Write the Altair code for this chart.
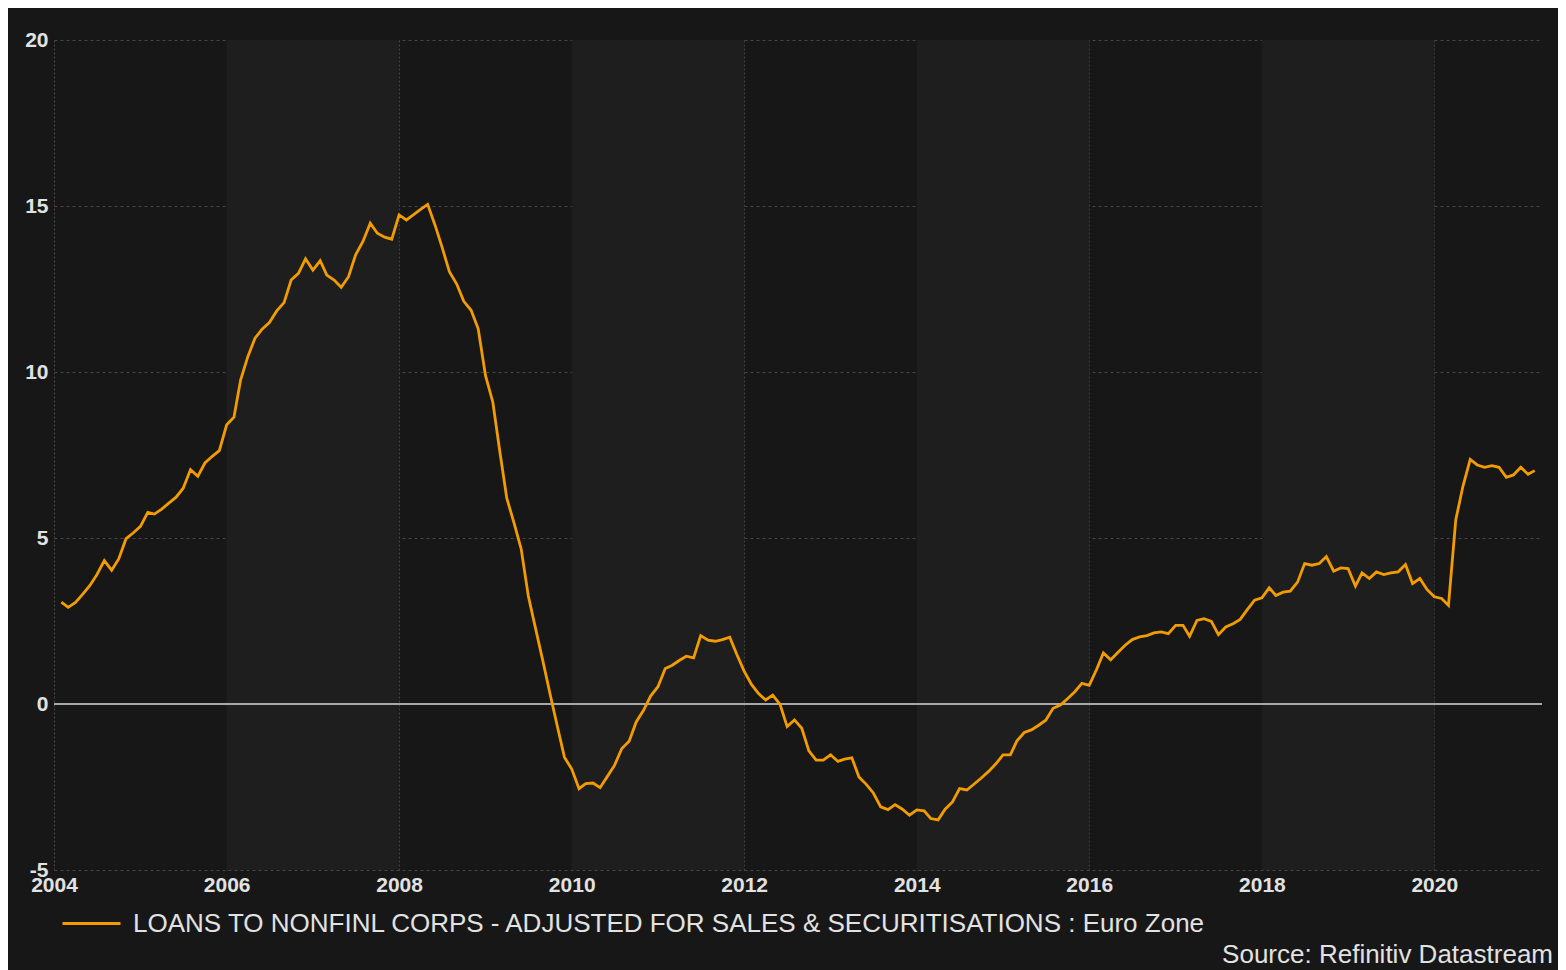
import altair as alt
import pandas as pd

# ---- data (monthly, Feb 2004 .. Mar 2021) ----
start_month = "2004-02-01"
values = [
    3.07, 2.91, 3.06, 3.30, 3.57, 3.90, 4.32, 4.03, 4.37, 4.98, 5.15, 5.35,
    5.77, 5.72, 5.87, 6.05, 6.23, 6.50, 7.06, 6.86, 7.26, 7.46, 7.63, 8.41,
    8.64, 9.76, 10.47, 11.02, 11.30, 11.49, 11.84, 12.09, 12.77, 12.97, 13.41, 13.07,
    13.35, 12.92, 12.77, 12.55, 12.87, 13.53, 13.93, 14.48, 14.18, 14.06, 14.00, 14.73,
    14.58, 14.73, 14.90, 15.05, 14.43, 13.76, 13.02, 12.65, 12.13, 11.86, 11.30, 9.89,
    9.09, 7.68, 6.20, 5.47, 4.67, 3.26, 2.27, 1.29, 0.31, -0.67, -1.60, -1.96,
    -2.55, -2.40, -2.38, -2.52, -2.18, -1.85, -1.34, -1.12, -0.54, -0.19, 0.24, 0.52,
    1.07, 1.16, 1.31, 1.44, 1.39, 2.06, 1.92, 1.89, 1.94, 2.01, 1.49, 0.99,
    0.59, 0.32, 0.12, 0.27, -0.01, -0.68, -0.48, -0.73, -1.41, -1.69, -1.69, -1.53,
    -1.73, -1.66, -1.62, -2.20, -2.42, -2.68, -3.10, -3.18, -3.03, -3.17, -3.35, -3.19,
    -3.22, -3.45, -3.49, -3.17, -2.95, -2.55, -2.59, -2.41, -2.23, -2.03, -1.81, -1.53,
    -1.53, -1.11, -0.86, -0.78, -0.64, -0.49, -0.13, -0.03, 0.16, 0.37, 0.62, 0.56,
    1.04, 1.54, 1.33, 1.55, 1.77, 1.94, 2.02, 2.06, 2.14, 2.17, 2.12, 2.37,
    2.37, 2.04, 2.52, 2.57, 2.49, 2.09, 2.32, 2.42, 2.55, 2.85, 3.13, 3.20,
    3.50, 3.27, 3.37, 3.40, 3.67, 4.23, 4.18, 4.23, 4.44, 4.00, 4.10, 4.08,
    3.55, 3.95, 3.78, 3.98, 3.90, 3.95, 3.98, 4.20, 3.63, 3.78, 3.45, 3.23,
    3.18, 2.97, 5.55, 6.55, 7.37, 7.20, 7.13, 7.18, 7.13, 6.83, 6.90, 7.13,
    6.92, 7.03,
]
series_name = "LOANS TO NONFINL CORPS - ADJUSTED FOR SALES & SECURITISATIONS : Euro Zone"
source_text = ["Source: Refinitiv Datastream"]

x_tick_years = [2004, 2006, 2008, 2010, 2012, 2014, 2016, 2018, 2020]
y_ticks = [-5, 0, 5, 10, 15, 20]
band_starts = ["2006-01-01", "2010-01-01", "2014-01-01", "2018-01-01"]
band_ends = ["2008-01-01", "2012-01-01", "2016-01-01", "2020-01-01"]

dates = pd.date_range(start_month, periods=len(values), freq="MS").strftime("%Y-%m-%d")
df = pd.DataFrame({"date": list(dates), "value": values, "series": series_name})
bands = pd.DataFrame({"start": band_starts, "end": band_ends})
zero = pd.DataFrame({"y": [0]})
src = pd.DataFrame({"text": source_text})

FONT = "Liberation Sans"
TXT = "#e2e2e2"
LINE = "#f39c00"
PLOT_W, PLOT_H = 1488, 830
PAD_BOTTOM = 100

x_scale = alt.Scale(
    type="utc",
    domain=[alt.DateTime(year=2004, month=1, date=1, utc=True),
            alt.DateTime(year=2021, month=4, date=1, utc=True)],
)
y_scale = alt.Scale(domain=[-5, 20], nice=False, zero=False)

x_axis = alt.Axis(
    title=None,
    values=[alt.DateTime(year=y, month=1, date=1, utc=True) for y in x_tick_years],
    format="%Y",
    labelFont=FONT, labelFontSize=21, labelFontWeight="bold", labelColor=TXT,
    labelPadding=4, ticks=False, domain=False, labelFlush=False,
    grid=True, gridColor="#474747", gridDash=[2, 2], gridWidth=1,
    labelOverlap=False,
)
y_axis = alt.Axis(
    title=None, values=y_ticks, labelExpr="datum.value + ''",
    labelFont=FONT, labelFontSize=21, labelFontWeight="bold", labelColor=TXT,
    labelPadding=6, ticks=False, domain=False,
    grid=True, gridColor="#474747", gridDash=[3, 3], gridWidth=1,
)

band_layer = alt.Chart(bands).mark_rect(color="#1e1e1e").encode(
    x=alt.X("start:T", scale=x_scale, axis=x_axis),
    x2="end:T",
)

zero_layer = alt.Chart(zero).mark_rule(color="#a8a8a8", strokeWidth=2).encode(
    y=alt.Y("y:Q", scale=y_scale, axis=y_axis)
)

line_layer = alt.Chart(df).mark_line(strokeWidth=2.8, interpolate="linear").encode(
    x=alt.X("date:T", scale=x_scale, axis=x_axis),
    y=alt.Y("value:Q", scale=y_scale, axis=y_axis),
    color=alt.Color(
        "series:N",
        scale=alt.Scale(range=[LINE]),
        legend=alt.Legend(
            title=None, orient="none", legendX=7, legendY=853,
            symbolType="stroke", symbolStrokeWidth=3, symbolSize=3364,
            labelFont=FONT, labelFontSize=26, labelColor=TXT, labelLimit=3000,
            labelOffset=11, padding=0,
        ),
    ),
)

source_layer = alt.Chart(src).mark_text(
    align="right", baseline="alphabetic", font=FONT, fontSize=26, color=TXT
).encode(
    text="text:N",
    x=alt.value(PLOT_W + 11),
    y=alt.value(PLOT_H + PAD_BOTTOM - 7),
)

chart = (
    alt.layer(band_layer, zero_layer, line_layer, source_layer)
    .properties(
        width=PLOT_W,
        height=PLOT_H,
        padding={"left": 46, "top": 32, "right": 16, "bottom": PAD_BOTTOM},
        autosize=alt.AutoSizeParams(type="none"),
        background="#171717",
    )
    .configure_view(stroke=None, fill="#171717")
)

chart.save("out.html", embed_options={"renderer": "svg", "actions": False})
